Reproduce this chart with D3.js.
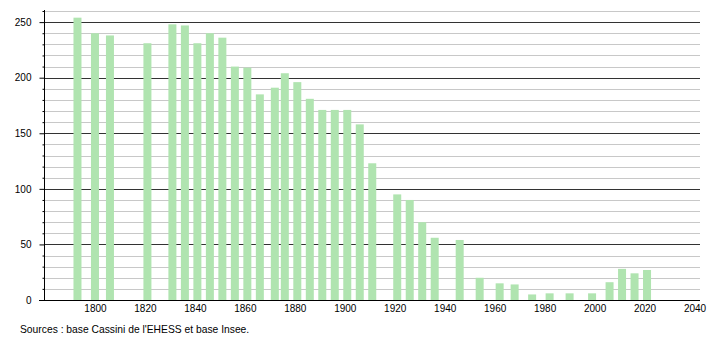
<!DOCTYPE html>
<html>
<head>
<meta charset="utf-8">
<script src="https://cdn.jsdelivr.net/npm/d3@7"></script>
<style>
  body { margin: 0; background: #fff; }
  text { font-family: "Liberation Sans", Arial, sans-serif; }
</style>
</head>
<body>
<svg id="chart"></svg>
<script>
// census years and population
var years = [1793, 1800, 1806, 1821, 1831, 1836, 1841, 1846, 1851, 1856, 1861, 1866, 1872, 1876, 1881, 1886, 1891, 1896, 1901, 1906, 1911, 1921, 1926, 1931, 1936, 1946, 1954, 1962, 1968, 1975, 1982, 1990, 1999, 2006, 2011, 2016, 2021]
var population = [254, 240, 238, 231, 248, 247, 231, 240, 236, 210, 209, 185, 191, 204, 196, 181, 171, 171, 171, 158, 123, 95, 90, 70, 56, 54, 20, 15, 14, 5, 6, 6, 6, 16, 28, 24, 27]
var xTicks = [1800, 1820, 1840, 1860, 1880, 1900, 1920, 1940, 1960, 1980, 2000, 2020, 2040]
var yTicks = [0, 50, 100, 150, 200, 250]
var source = "Sources : base Cassini de l'EHESS et base Insee."

var dimensions = {
    width: 710,
    height: 340,
    margin: { top: 11, bottom: 40, right: 10, left: 44 }
}

var svg = d3.select('#chart')
    .attr("width", dimensions.width)
    .attr("height", dimensions.height)

var xScale = d3.scaleLinear()
    .domain([1779.6, 2042.2])
    .range([dimensions.margin.left, dimensions.width - dimensions.margin.right])

var yScale = d3.scaleLinear()
    .domain([0, 260])
    .range([dimensions.height - dimensions.margin.bottom, dimensions.margin.top])

var minor = d3.range(0, 261, 10)

// gridlines
svg.append("g")
    .selectAll("line")
    .data(minor)
    .enter()
    .append("line")
    .attr("x1", dimensions.margin.left)
    .attr("x2", dimensions.width - dimensions.margin.right)
    .attr("y1", d => Math.round(yScale(d)) + 0.5)
    .attr("y2", d => Math.round(yScale(d)) + 0.5)
    .style("stroke", d => d % 50 == 0 ? "#333" : "#c8c8c8")
    .style("stroke-width", 1)

// bars
svg.append("g")
    .selectAll("rect")
    .data(years)
    .enter()
    .append("rect")
    .attr("x", d => xScale(d) - 4)
    .attr("width", 8)
    .attr("y", (d, i) => yScale(population[i]))
    .attr("height", (d, i) => yScale(0) - yScale(population[i]))
    .style("fill", "#b0e4b0")

// y axis with major and minor ticks
var yAxis = svg.append("g")
    .attr("transform", `translate(${dimensions.margin.left + 0.5},0)`)
    .call(d3.axisLeft(yScale).tickValues(yTicks).tickSize(5).tickPadding(8))
yAxis.select(".domain").remove()
yAxis.selectAll("text").style("font-size", "10px").style("fill", "#000")

svg.append("g")
    .attr("transform", `translate(${dimensions.margin.left + 0.5},0)`)
    .call(d3.axisLeft(yScale).tickValues(minor.filter(d => d % 50 != 0)).tickSize(2).tickFormat(""))
    .select(".domain").remove()

svg.append("line")
    .attr("x1", dimensions.margin.left + 0.5)
    .attr("x2", dimensions.margin.left + 0.5)
    .attr("y1", 10)
    .attr("y2", yScale(0) + 0.5)
    .style("stroke", "#000")

// x axis, labels only
var xAxis = svg.append("g")
    .attr("transform", `translate(0,${Math.round(yScale(0)) + 0.5})`)
    .call(d3.axisBottom(xScale).tickValues(xTicks).tickSize(0).tickPadding(4).tickFormat(d3.format("d")))
xAxis.select(".domain").remove()
xAxis.selectAll("text").style("font-size", "10px").style("fill", "#000")

svg.append("line")
    .attr("x1", 39)
    .attr("x2", dimensions.width - dimensions.margin.right)
    .attr("y1", Math.round(yScale(0)) + 0.5)
    .attr("y2", Math.round(yScale(0)) + 0.5)
    .style("stroke", "#000")

svg.append("text")
    .attr("x", 20)
    .attr("y", 333)
    .style("font-size", "10.3px")
    .text(source)
</script>
</body>
</html>
